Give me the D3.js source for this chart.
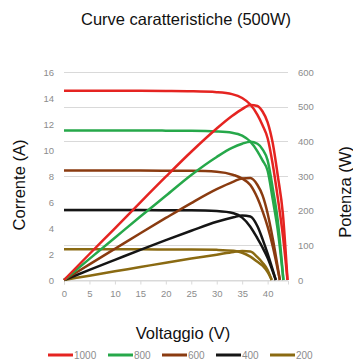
<!DOCTYPE html>
<html>
<head>
<meta charset="utf-8">
<script src="https://cdn.jsdelivr.net/npm/d3@7"></script>
<style>
  body { margin: 0; background: #fff; }
  text { font-family: "Liberation Sans", Arial, sans-serif; }
</style>
</head>
<body>
<div id="chart"></div>
<script>
// irradiance series (W/m2)
var series = ["1000", "800", "600", "400", "200"];
var colors = ["#e52421", "#26a84a", "#8a3b10", "#151515", "#8a6a12"];

// voltage (V), current (A), power (W)
var v1000 = [0, 5, 10, 15, 20, 25, 30, 33, 35, 36.6, 38, 39, 40, 41, 42, 43, 43.9];
var i1000 = [14.55, 14.55, 14.55, 14.55, 14.54, 14.52, 14.45, 14.3, 14.0, 13.5, 12.7, 11.9, 10.9, 8.9, 6.3, 3.4, 0];
var p1000 = [0, 75, 149, 224, 298, 370, 437, 473, 493, 505, 502, 486, 455, 395, 300, 190, 0];

var v800 = [0, 5, 10, 15, 20, 25, 30, 33, 35, 36.6, 38, 39, 40, 41, 42, 43.1];
var i800 = [11.5, 11.5, 11.5, 11.5, 11.49, 11.48, 11.43, 11.33, 11.1, 10.64, 9.9, 9.2, 8.4, 6.2, 3.8, 0];
var p800 = [0, 61, 122, 183, 243, 303, 355, 381, 393, 399, 393, 377, 345, 265, 170, 0];

var v600 = [0, 5, 10, 15, 20, 25, 30, 33.3, 35, 36.6, 38, 39, 40, 41, 42.4];
var i600 = [8.42, 8.42, 8.42, 8.42, 8.41, 8.4, 8.33, 8.08, 7.8, 7.3, 6.3, 5.3, 4.1, 2.6, 0];
var p600 = [0, 45, 90, 135, 179, 222, 262, 284, 293, 294, 274, 244, 192, 120, 0];

var v400 = [0, 5, 10, 15, 20, 25, 30, 33.3, 35, 36.6, 38, 39, 40, 41.6];
var i400 = [5.38, 5.38, 5.38, 5.38, 5.37, 5.36, 5.3, 5.13, 4.8, 4.1, 3.2, 2.5, 1.7, 0];
var p400 = [0, 29, 58, 87, 115, 142, 168, 181, 186, 183, 155, 118, 76, 0];

var v200 = [0, 5, 10, 15, 20, 25, 30, 33.3, 35, 36.6, 38, 39, 40, 40.8];
var i200 = [2.36, 2.36, 2.36, 2.36, 2.35, 2.35, 2.32, 2.25, 2.1, 1.8, 1.4, 1.1, 0.6, 0];
var p200 = [0, 12.5, 25, 37.5, 50, 62, 73, 81, 84, 82, 66, 50, 29, 0];

var xTicks = [0, 5, 10, 15, 20, 25, 30, 35, 40];
var leftTicks = [0, 2, 4, 6, 8, 10, 12, 14, 16];
var rightTicks = [0, 100, 200, 300, 400, 500, 600];

var volts = [v1000, v800, v600, v400, v200];
var amps = [i1000, i800, i600, i400, i200];
var watts = [p1000, p800, p600, p400, p200];

var width = 353, height = 363;
var svg = d3.select("#chart").append("svg")
    .attr("width", width)
    .attr("height", height);

var x = d3.scaleLinear().domain([0, 44]).range([64, 288]);
var yL = d3.scaleLinear().domain([0, 16]).range([280, 72]);
var yR = d3.scaleLinear().domain([0, 600]).range([280, 72]);

// gridlines (follow the right axis)
svg.append("g")
    .selectAll("line")
    .data(rightTicks)
    .join("line")
    .attr("x1", x(0))
    .attr("x2", x(44))
    .attr("y1", d => Math.round(yR(d)) + 0.5)
    .attr("y2", d => Math.round(yR(d)) + 0.5)
    .attr("stroke", "#d9d9d9")
    .attr("stroke-width", 1);

// x axis
var xAxis = d3.axisBottom(x).tickValues(xTicks).tickSize(4).tickPadding(6);
var gx = svg.append("g")
    .attr("transform", "translate(0," + (Math.round(yR(0)) + 0.5) + ")")
    .call(xAxis);
gx.select(".domain").attr("stroke", "#d9d9d9");
gx.selectAll(".tick line").attr("stroke", "#d9d9d9");
gx.selectAll(".tick text")
    .attr("fill", "#8c8c8c")
    .style("font-size", "9.5px");

// left axis
var gl = svg.append("g")
    .attr("transform", "translate(" + (x(0) - 4) + ",0)")
    .call(d3.axisLeft(yL).tickValues(leftTicks).tickSize(0).tickPadding(6));
gl.select(".domain").remove();
gl.selectAll(".tick text")
    .attr("fill", "#8c8c8c")
    .style("font-size", "9.5px");

// right axis
var gr = svg.append("g")
    .attr("transform", "translate(" + (x(44) + 4) + ",0)")
    .call(d3.axisRight(yR).tickValues(rightTicks).tickSize(0).tickPadding(6));
gr.select(".domain").remove();
gr.selectAll(".tick text")
    .attr("fill", "#8c8c8c")
    .style("font-size", "9.5px");

// titles
svg.append("text")
    .attr("x", 186)
    .attr("y", 25)
    .attr("text-anchor", "middle")
    .style("font-size", "16.5px")
    .attr("fill", "#111")
    .text("Curve caratteristiche (500W)");

svg.append("text")
    .attr("x", 183)
    .attr("y", 339)
    .attr("text-anchor", "middle")
    .style("font-size", "16.5px")
    .attr("fill", "#111")
    .text("Voltaggio (V)");

svg.append("text")
    .attr("transform", "translate(25,185) rotate(-90)")
    .attr("text-anchor", "middle")
    .style("font-size", "16.5px")
    .attr("fill", "#111")
    .text("Corrente (A)");

svg.append("text")
    .attr("transform", "translate(351,192) rotate(-90)")
    .attr("text-anchor", "middle")
    .style("font-size", "16.5px")
    .attr("fill", "#111")
    .text("Potenza (W)");

// curves
var lineI = d3.line()
    .x(d => x(d[0]))
    .y(d => yL(d[1]))
    .curve(d3.curveMonotoneX);
var lineP = d3.line()
    .x(d => x(d[0]))
    .y(d => yR(d[1]))
    .curve(d3.curveMonotoneX);

var plot = svg.append("g");
for (var k = series.length - 1; k >= 0; k--) {
    var ivData = volts[k].map((v, j) => [v, amps[k][j]]);
    var pvData = volts[k].map((v, j) => [v, watts[k][j]]);
    plot.append("path")
        .datum(ivData)
        .attr("fill", "none")
        .attr("stroke", colors[k])
        .attr("stroke-width", 2.5)
        .attr("stroke-linejoin", "round")
        .attr("d", lineI);
    plot.append("path")
        .datum(pvData)
        .attr("fill", "none")
        .attr("stroke", colors[k])
        .attr("stroke-width", 2.5)
        .attr("stroke-linejoin", "round")
        .attr("d", lineP);
}

// legend
var legendX = [48, 108, 162, 216, 270];
var glegend = svg.selectAll(".legend")
    .data(series)
    .join("g")
    .attr("class", "legend")
    .attr("transform", (d, i) => "translate(" + legendX[i] + ",355)");

glegend.append("line")
    .attr("x1", 0)
    .attr("x2", 25)
    .attr("stroke", (d, i) => colors[i])
    .attr("stroke-width", 3);

glegend.append("text")
    .attr("x", 26)
    .attr("y", 3.5)
    .attr("fill", "#8c8c8c")
    .style("font-size", "10px")
    .text(d => d);
</script>
</body>
</html>
